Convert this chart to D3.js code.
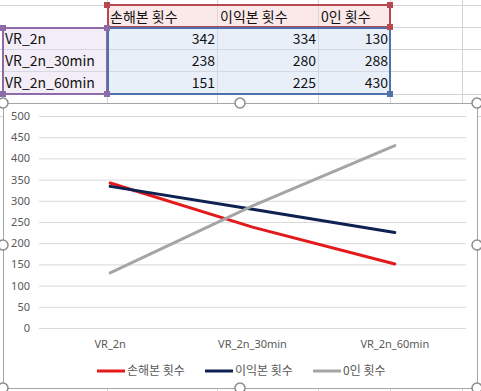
<!DOCTYPE html>
<html>
<head>
<meta charset="utf-8">
<script src="https://cdn.jsdelivr.net/npm/d3@7"></script>
<style>
  body { margin: 0; background: #fff; }
  svg { display: block; font-family: "Noto Sans CJK KR", "Noto Sans", sans-serif; }
</style>
</head>
<body>
<div id="chart"></div>
<script>
var categories = ["VR_2n", "VR_2n_30min", "VR_2n_60min"];
var seriesNames = ["손해본 횟수", "이익본 횟수", "0인 횟수"];
var lossCounts = [342, 238, 151];
var gainCounts = [334, 280, 225];
var zeroCounts = [130, 288, 430];
var yTicks = [0, 50, 100, 150, 200, 250, 300, 350, 400, 450, 500];

var seriesColors = ["#e3191c", "#0e2151", "#a5a5a5"];
var seriesValues = [lossCounts, gainCounts, zeroCounts];

var W = 481, H = 391;
var svg = d3.select("#chart").append("svg")
    .attr("width", W)
    .attr("height", H);

// ---- spreadsheet behind the chart ----
var rowLines = [5, 27, 49, 71, 94, 116];
var colLines = [107, 217, 318, 390, 462];
var sheet = svg.append("g");
rowLines.forEach(function(y) {
  sheet.append("line").attr("x1", 0).attr("x2", W).attr("y1", y + 0.5).attr("y2", y + 0.5)
    .attr("stroke", "#d4d4d4");
});
colLines.forEach(function(x) {
  sheet.append("line").attr("x1", x + 0.5).attr("x2", x + 0.5).attr("y1", 0).attr("y2", H)
    .attr("stroke", "#d4d4d4");
});

// cell fills
sheet.append("rect").attr("x", 107).attr("y", 5).attr("width", 283).attr("height", 22).attr("fill", "#fbe9ea");
sheet.append("rect").attr("x", 3).attr("y", 27).attr("width", 104).attr("height", 67).attr("fill", "#f2edf6");
sheet.append("rect").attr("x", 107).attr("y", 27).attr("width", 283).attr("height", 67).attr("fill", "#e9eff9");
// inner faint grid in table
[49, 71].forEach(function(y) {
  sheet.append("line").attr("x1", 3).attr("x2", 390).attr("y1", y + 0.5).attr("y2", y + 0.5).attr("stroke", "#d4d8e0");
});
[217, 318].forEach(function(x) {
  sheet.append("line").attr("x1", x + 0.5).attr("x2", x + 0.5).attr("y1", 5).attr("y2", 94).attr("stroke", "#d4d8e0");
});

// headers
seriesNames.forEach(function(n, i) {
  sheet.append("text").attr("x", colLines[i] + 3).attr("y", 22)
    .attr("font-size", 14).attr("fill", "#111").text(n);
});
categories.forEach(function(c, r) {
  sheet.append("text").attr("x", 5).attr("y", 44 + r * 22)
    .attr("font-size", 14).attr("fill", "#111").text(c);
  seriesValues.forEach(function(vals, i) {
    sheet.append("text").attr("x", colLines[i + 1] - 2).attr("y", 44 + r * 22)
      .attr("text-anchor", "end").attr("font-size", 14).attr("fill", "#111").text(vals[r]);
  });
});

// range selection borders
function rangeBox(x, y, w, h, col) {
  sheet.append("rect").attr("x", x).attr("y", y).attr("width", w).attr("height", h)
    .attr("fill", "none").attr("stroke", col).attr("stroke-width", 2);
}
rangeBox(108, 5, 282, 22, "#b8474f");
rangeBox(3, 28, 104, 66, "#8d6aa8");
rangeBox(108, 28, 282, 66, "#4d71ab");
function handle(x, y, col) {
  sheet.append("rect").attr("x", x - 3).attr("y", y - 3).attr("width", 6).attr("height", 6).attr("fill", col);
}
handle(107, 5, "#b8474f"); handle(390, 5, "#b8474f"); handle(390, 27, "#b8474f");
handle(3, 28, "#8d6aa8"); handle(107, 28, "#8d6aa8"); handle(3, 94, "#8d6aa8"); handle(107, 94, "#8d6aa8");
handle(390, 94, "#4d71ab");

// ---- chart area ----
var cx0 = 3, cy0 = 103, cx1 = 477, cy1 = 388;
svg.append("rect").attr("x", cx0 + 0.5).attr("y", cy0 + 0.5)
  .attr("width", cx1 - cx0).attr("height", cy1 - cy0)
  .attr("fill", "#fff").attr("stroke", "#a6a6a6");

var plotLeft = 39, plotRight = 466, plotTop = 116, plotBottom = 328;
var x = d3.scaleBand().domain(categories).range([plotLeft, plotRight]);
var y = d3.scaleLinear().domain([0, 500]).range([plotBottom, plotTop]);

var yAxis = svg.append("g")
  .attr("transform", "translate(" + plotLeft + ",0)")
  .call(d3.axisLeft(y).tickValues(yTicks).tickSize(-(plotRight - plotLeft)).tickPadding(9));
yAxis.select(".domain").remove();
yAxis.selectAll(".tick line").attr("stroke", "#d9d9d9");
yAxis.selectAll(".tick text").attr("fill", "#595959").attr("font-size", 11)
  .attr("font-family", "'Noto Sans', sans-serif");

var xAxis = svg.append("g")
  .attr("transform", "translate(0," + plotBottom + ")")
  .call(d3.axisBottom(x).tickSize(0).tickPadding(12));
xAxis.select(".domain").remove();
xAxis.selectAll(".tick text").attr("fill", "#595959").attr("font-size", 11)
  .attr("font-family", "'Noto Sans', sans-serif");

var line = d3.line()
  .x(function(d, i) { return x(categories[i]) + x.bandwidth() / 2; })
  .y(function(d) { return y(d); });

seriesValues.forEach(function(vals, i) {
  svg.append("path").datum(vals)
    .attr("d", line)
    .attr("fill", "none")
    .attr("stroke", seriesColors[i])
    .attr("stroke-width", 3)
    .attr("stroke-linecap", "round");
});

// legend
var legendX = [97, 205, 313];
var legend = svg.append("g");
seriesNames.forEach(function(n, i) {
  legend.append("line").attr("x1", legendX[i]).attr("x2", legendX[i] + 28)
    .attr("y1", 371).attr("y2", 371)
    .attr("stroke", seriesColors[i]).attr("stroke-width", 3);
  legend.append("text").attr("x", legendX[i] + 30).attr("y", 375)
    .attr("font-size", 12).attr("fill", "#595959").text(n);
});

// chart selection handles
var handles = [[cx0, cy0], [240, cy0], [cx1, cy0], [cx0, 245], [cx1, 245], [cx0, cy1], [240, cy1], [cx1, cy1]];
handles.forEach(function(p) {
  svg.append("circle").attr("cx", p[0]).attr("cy", p[1]).attr("r", 5)
    .attr("fill", "#fff").attr("stroke", "#8c8c8c").attr("stroke-width", 1.5);
});
</script>
</body>
</html>
